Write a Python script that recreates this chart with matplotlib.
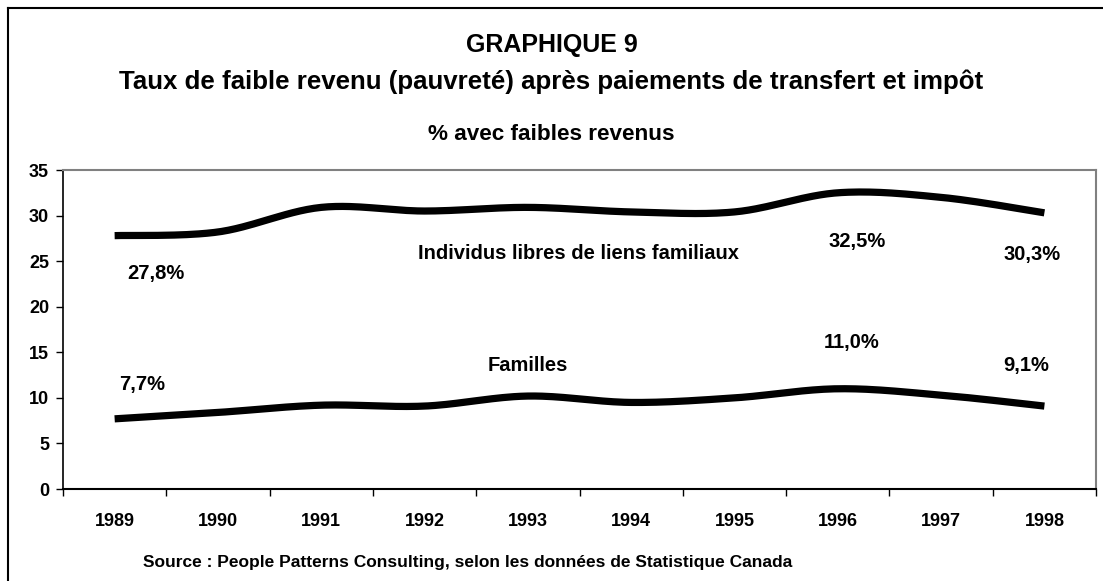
import matplotlib
matplotlib.use('Agg')
import matplotlib.pyplot as plt
import numpy as np

plt.rcParams['font.family'] = ['Liberation Sans', 'DejaVu Sans']
plt.rcParams['font.weight'] = 'bold'

years = ['1989', '1990', '1991', '1992', '1993', '1994', '1995', '1996', '1997', '1998']
individus = [27.8, 28.2, 30.9, 30.5, 30.9, 30.4, 30.4, 32.5, 32.0, 30.3]
familles = [7.7, 8.4, 9.2, 9.1, 10.2, 9.5, 10.0, 11.0, 10.3, 9.1]

# which points get a value label, and where the label sits (data coords)
lab_ind = {0: (0.40, 23.7), 7: (7.19, 27.2), 9: (8.88, 25.7)}
lab_fam = {0: (0.27, 11.5), 7: (7.13, 16.1), 9: (8.82, 13.5)}


def smooth(xs, ys, n=30):
    # excel-like smoothed line: cubic bezier with catmull-rom tangents
    xs = np.asarray(xs, float)
    ys = np.asarray(ys, float)
    px, py = [], []
    for i in range(len(xs) - 1):
        i0 = max(i - 1, 0)
        i3 = min(i + 2, len(xs) - 1)
        c1x = xs[i] + (xs[i + 1] - xs[i0]) / 6
        c1y = ys[i] + (ys[i + 1] - ys[i0]) / 6
        c2x = xs[i + 1] - (xs[i3] - xs[i]) / 6
        c2y = ys[i + 1] - (ys[i3] - ys[i]) / 6
        t = np.linspace(0, 1, n)
        a, b, c, d = (1 - t)**3, 3 * (1 - t)**2 * t, 3 * (1 - t) * t**2, t**3
        px.extend(a * xs[i] + b * c1x + c * c2x + d * xs[i + 1])
        py.extend(a * ys[i] + b * c1y + c * c2y + d * ys[i + 1])
    return px, py


fig = plt.figure(figsize=(11.03, 5.81), dpi=100)
ax = fig.add_axes([0.0571, 0.1583, 0.9366, 0.5491])

x = np.arange(len(years))
for vals in (individus, familles):
    sx, sy = smooth(x, vals)
    ax.plot(sx, sy, color='black', lw=5.2, solid_capstyle='butt', solid_joinstyle='round')


def pct(v):
    return f'{v:.1f}%'.replace('.', ',')


for vals, labs in ((individus, lab_ind), (familles, lab_fam)):
    for i, (lx, ly) in labs.items():
        ax.text(lx, ly, pct(vals[i]), ha='center', va='center', fontsize=14.5, fontweight='bold')

ax.text(4.49, 25.85, 'Individus libres de liens familiaux', ha='center', va='center',
        fontsize=14.5, fontweight='bold')
ax.text(4.0, 13.5, 'Familles', ha='center', va='center', fontsize=14.5, fontweight='bold')

ax.set_xlim(-0.5, len(years) - 0.5)
ax.set_ylim(0, 35)
ax.set_yticks(np.arange(0, 36, 5))
ax.set_xticks(np.arange(-0.5, len(years), 1))
ax.set_xticklabels([])
ax.set_xticks(x, minor=True)
ax.set_xticklabels(years, minor=True)
ax.tick_params(axis='x', which='minor', length=0, pad=17, labelsize=13)
ax.tick_params(axis='x', which='major', length=5, width=1, direction='out')
ax.tick_params(axis='y', length=5, width=1, direction='out', labelsize=13, pad=5)
for lab in ax.get_xticklabels(minor=True) + ax.get_yticklabels():
    lab.set_fontweight('bold')

ax.spines['left'].set_color('black')
ax.spines['left'].set_linewidth(1.2)
ax.spines['bottom'].set_color('black')
ax.spines['bottom'].set_linewidth(1.5)
ax.spines['top'].set_color('#808080')
ax.spines['right'].set_color('#808080')
ax.spines['top'].set_linewidth(1.5)
ax.spines['right'].set_linewidth(1.5)

fig.text(0.5, 1 - 45 / 581, 'GRAPHIQUE 9', ha='center', va='center', fontsize=18, fontweight='bold')
fig.text(0.5, 1 - 82 / 581, 'Taux de faible revenu (pauvreté) après paiements de transfert et impôt',
         ha='center', va='center', fontsize=18.6, fontweight='bold')
fig.text(0.5, 1 - 135 / 581, '% avec faibles revenus', ha='center', va='center',
         fontsize=16.2, fontweight='bold')
fig.text(143 / 1103, 1 - 563 / 581,
         'Source : People Patterns Consulting, selon les données de Statistique Canada',
         ha='left', va='center', fontsize=12.5, fontweight='bold')

# outer frame (left and top edges visible in the picture)
fig.add_artist(plt.Line2D([8 / 1103, 8 / 1103], [0, 1 - 8 / 581], transform=fig.transFigure,
                          color='black', lw=1.5))
fig.add_artist(plt.Line2D([8 / 1103, 1], [1 - 8 / 581, 1 - 8 / 581], transform=fig.transFigure,
                          color='black', lw=1.5))

fig.savefig('out.png', dpi=100)
